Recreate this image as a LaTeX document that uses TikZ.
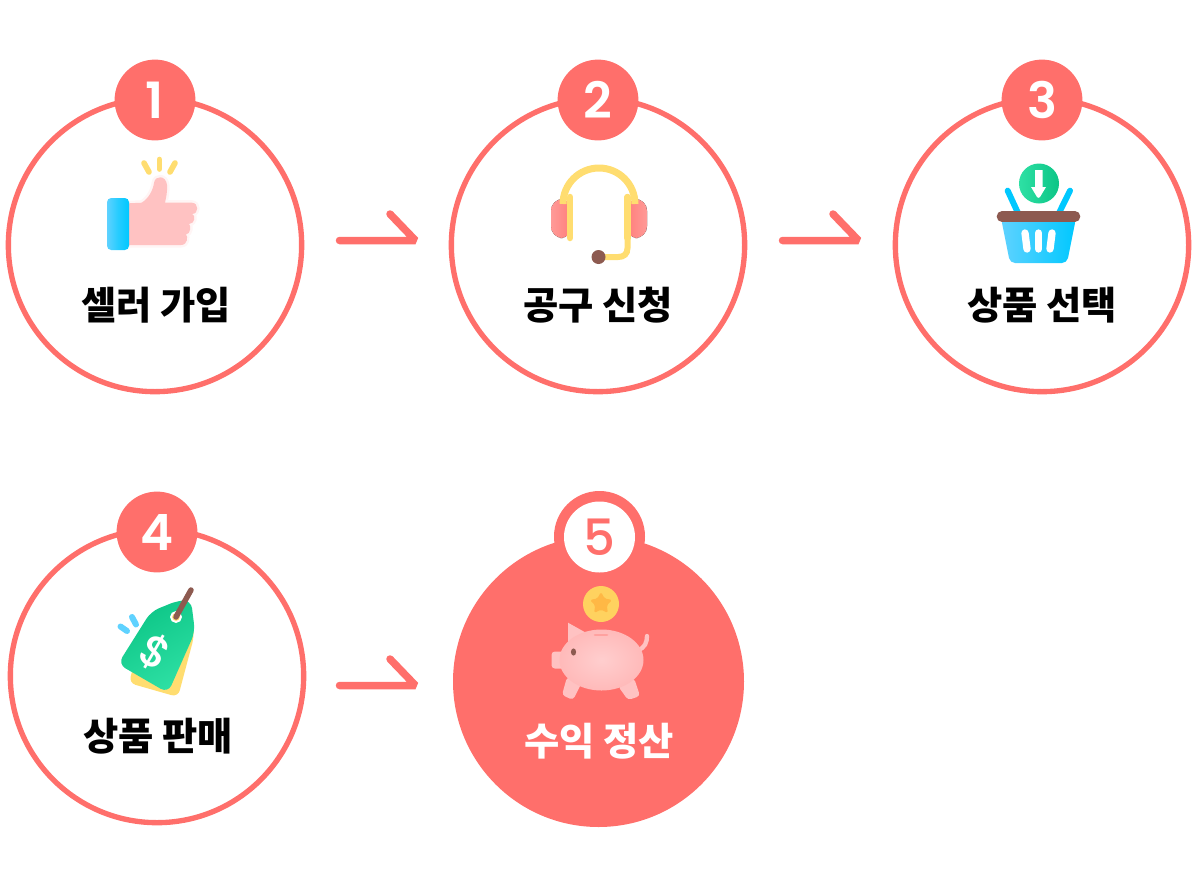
\documentclass[tikz,border=0pt]{standalone}
\usepackage{fontspec}
\setmainfont{Noto Sans CJK KR}
\newfontfamily\numfont{Poppins SemiBold}
\newfontfamily\thinnum{Poppins Medium}
\usetikzlibrary{shapes.geometric}

\definecolor{coral}{HTML}{FF6F6B}
\definecolor{sunny}{HTML}{FFDD70}
\definecolor{brownish}{HTML}{8D5A50}
\definecolor{aqua}{HTML}{00C8FF}
\definecolor{skyblue}{HTML}{5FD2FF}
\definecolor{pinkish}{HTML}{FFC2C2}
\definecolor{mint}{HTML}{2EE0A4}
\definecolor{leaf}{HTML}{0CC586}
\definecolor{coingold}{HTML}{FFD25F}
\definecolor{stargold}{HTML}{FFB845}

\tikzset{
  stagering/.style={circle, draw=coral, line width=3.2pt, minimum size=176pt, inner sep=0pt},
  stagefull/.style={circle, fill=coral, minimum size=174.6pt, inner sep=0pt},
  badge/.style={circle, fill=coral, text=white, minimum size=48.5pt, inner sep=0pt, font=\numfont\fontsize{30}{30}\selectfont},
  stagelabel/.style={font=\bfseries\fontsize{23}{24}\selectfont, inner sep=0pt},
  hookarrow/.style={draw=coral, line width=4.5pt, line cap=round, line join=bevel},
  softglow/.style={preaction={draw=#1, line width=3pt, opacity=.07, line join=round}},
  ray/.style={line width=#1, line cap=round}
}

\begin{document}
\begin{tikzpicture}[x=0.6pt, y=-0.6pt]
  \useasboundingbox (0,0) rectangle (1200,891);

  % big circles
  \node[stagering] (one) at (155,245) {};
  \node[stagering] (two) at (598,245) {};
  \node[stagering] (three) at (1042,245) {};
  \node[stagering] (four) at (157,676) {};
  \node[stagefull] (five) at (598.5,681.5) {};

  % numbers
  \node[badge] (badgeone) at (155,100) {1};
  \node[badge] (badgetwo) at (598,100) {2};
  \node[badge] (badgethree) at (1042,100) {3};
  \node[badge] (badgefour) at (157,532) {4};
  \node[circle, fill=coral, minimum size=54.6pt, inner sep=0pt] (ringfive) at (599.5,536.5) {};
  \node[badge, fill=white, text=coral, minimum size=42.6pt, font=\thinnum\fontsize{30}{30}\selectfont] (badgefive) at (599.5,537) {5};

  % labels
  \node[stagelabel] (labelone) at (156,305) {셀러 가입};
  \node[stagelabel] (labeltwo) at (598,305) {공구 신청};
  \node[stagelabel] (labelthree) at (1042,305) {상품 선택};
  \node[stagelabel] (labelfour) at (158,736) {상품 판매};
  \node[stagelabel, text=white] (labelfive) at (599,741) {수익 정산};

  % arrows
  \coordinate (startone) at (339.5,240.5);
  \coordinate (tipone) at (415.5,240.5);
  \coordinate (hookone) at (390,214);
  \coordinate (starttwo) at (782.5,240.5);
  \coordinate (tiptwo) at (858.5,240.5);
  \coordinate (hooktwo) at (833,214);
  \coordinate (startthree) at (339.5,685.5);
  \coordinate (tipthree) at (415.5,685.5);
  \coordinate (hookthree) at (390,659);
  \draw[hookarrow] (startone) -- (tipone) -- (hookone);
  \draw[hookarrow] (starttwo) -- (tiptwo) -- (hooktwo);
  \draw[hookarrow] (startthree) -- (tipthree) -- (hookthree);

  % thumb icon
  \draw[sunny, ray=3.4pt] (144,163) -- (149,172);
  \draw[sunny, ray=3.4pt] (159.5,159.5) -- (159.5,169);
  \draw[sunny, ray=3.4pt] (175,163) -- (170,172);
  \path[softglow=coral, fill=pinkish] (129,203.3) -- (141.7,202.7)
    .. controls (149,198) and (153,190) .. (154,183)
    .. controls (155,175) and (166,175) .. (167,185)
    .. controls (167.5,192) and (166,198) .. (165,202.7)
    -- (192,202.7) .. controls (199,203) and (199,214) .. (192,214)
    .. controls (196,215) and (195,224) .. (189,224)
    .. controls (191,225) and (191,234) .. (186,234.5)
    .. controls (188,236) and (188,245) .. (181,245)
    -- (129,245) -- cycle;
  \shade[rounded corners=2.5pt, left color=skyblue, right color=aqua, middle color=aqua!60!skyblue]
    (107,198) rectangle (129,250);

  % headset icon
  \fill[rounded corners=7pt, left color=coral!70!white, right color=coral!90!white] (551,199) rectangle (572,238);
  \fill[rounded corners=7pt, right color=coral!70!white, left color=coral!90!white] (626,199) rectangle (647,238);
  \draw[sunny, line width=4.2pt] (563,204) arc[start angle=180, end angle=360, radius=36];
  \draw[sunny, ray=3.9pt] (570,197) -- (570,238);
  \draw[sunny, ray=3.9pt] (627.5,197) -- (627.5,238);
  \draw[sunny, line width=3.6pt, line cap=round] (627.5,238) -- (627.5,248)
    .. controls (627.5,254) and (624,257) .. (618,257) -- (599,257);
  \node[circle, fill=brownish, minimum size=8.4pt, inner sep=0pt] (mic) at (598.5,257) {};

  % basket icon
  \node[circle, minimum size=24pt, inner sep=0pt, shading=axis, shading angle=-45, left color=mint, right color=leaf] (coin) at (1039,183.5) {};
  \fill[white] (1035,170) -- (1042.5,170) -- (1042.5,187) -- (1046,187) -- (1040,197) .. controls (1039,198) and (1038,198) .. (1037,197) -- (1031,187) -- (1035,187) -- cycle;
  \draw[aqua, ray=3.6pt] (1007.7,190.7) -- (1018,213);
  \draw[aqua, ray=3.6pt] (1070,190.7) -- (1059,213);
  \shade[rounded corners=3pt, left color=skyblue, right color=aqua]
    (1001,218) -- (1076,218) -- (1067,263) -- (1010,263) -- cycle;
  \draw[white, ray=4.4pt] (1025,233) -- (1027,249);
  \draw[white, ray=4.4pt] (1038.5,233) -- (1038.5,249);
  \draw[white, ray=4.4pt] (1052,233) -- (1050,249);
  \draw[brownish, ray=6.4pt] (1002,216.5) -- (1075,216.5);

  % price tag icon
  \draw[skyblue, ray=3.6pt] (120.5,626.5) -- (127,631);
  \draw[skyblue, ray=3.6pt] (132,617) -- (136,624.5);
  \fill[sunny, rounded corners=4pt] (193,625) -- (194,637) -- (178,697) -- (129,683) -- (135,660) -- cycle;
  \shade[rounded corners=5pt, left color=leaf, right color=mint, shading angle=30] (178,600.5) -- (191,600) -- (195,632) -- (168,693) -- (118,664) -- (151,611.5) -- cycle;
  \node[circle, draw=white, fill=sunny, line width=1.1pt, minimum size=6pt, inner sep=0pt] (taghole) at (176,617) {};
  \coordinate (stringend) at (191,590);
  \draw[brownish, ray=3.3pt] (taghole.center) -- (stringend);
  \node[text=white, rotate=-30, inner sep=0pt, font=\thinnum\fontsize{26}{26}\selectfont] (dollar) at (155.7,652) {\$};

  % piggy icon
  \node[circle, fill=coingold, minimum size=21.6pt, inner sep=0pt] (starcoin) at (601,604) {};
  \node[star, star points=5, star point ratio=1.9, fill=stargold, minimum size=14pt, inner sep=0pt, rounded corners=1pt] (starmark) at (601,603.5) {};
  \draw[pinkish, ray=2.6pt] (638,650) .. controls (645,648) and (647,642) .. (647,636);
  \fill[pinkish, rounded corners=2pt] (567,677) -- (582,682) -- (573,700) -- (562,695) -- cycle;
  \fill[pinkish, rounded corners=2pt] (618,686) -- (634,678) -- (640,696) -- (628,700) -- cycle;
  \fill[pinkish] (568,622.7) -- (590,635) -- (568,645) -- cycle;
  \fill[pinkish, rounded corners=2pt] (551.5,651.5) rectangle (570,668.5);
  \shade[inner color=pinkish!80!white, outer color=pinkish!90!coral] (601.5,660) ellipse[x radius=42, y radius=30.5];
  \draw[coral!65!white, ray=1.6pt] (595,635) -- (607,635);
  \fill[brownish] (573.5,652) ellipse[x radius=2.6, y radius=3.6];
\end{tikzpicture}
\end{document}
